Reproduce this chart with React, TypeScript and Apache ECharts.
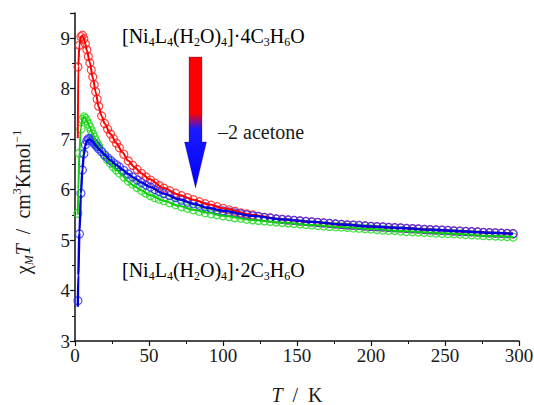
import React, { useEffect, useRef } from "react";
import * as echarts from "echarts";

// Measured points (T / K)
const tempK = [
  2, 3, 4, 5, 6, 7, 8, 9, 10, 11, 12, 13, 14, 15, 16, 18, 20, 22, 24, 26, 28, 30,
  33, 36, 39, 42, 45, 48, 51, 54, 57, 60, 64, 68, 72, 76, 80, 84, 88, 92, 96, 100,
  104, 108, 112, 116, 120, 124, 128, 132, 136, 140, 144, 148, 152, 156, 160, 164,
  168, 172, 176, 180, 184, 188, 192, 196, 200, 204, 208, 212, 216, 220, 224, 228,
  232, 236, 240, 244, 248, 252, 256, 260, 264, 268, 272, 276, 280, 284, 288, 292, 296,
];

// chi_M T of [Ni4L4(H2O)4]·4C3H6O (red)
const chiT4Acetone = [
  8.43, 8.86, 9.03, 9.06, 8.99, 8.89, 8.77, 8.64, 8.51, 8.37, 8.23, 8.08, 7.94, 7.79, 7.65, 7.46, 7.31, 7.2, 7.1, 7.01, 6.92, 6.83,
  6.7, 6.57, 6.48, 6.4, 6.32, 6.25, 6.19, 6.13, 6.08, 6.03, 5.98, 5.93, 5.88, 5.84, 5.8, 5.76, 5.72, 5.69, 5.66, 5.63,
  5.6, 5.57, 5.54, 5.52, 5.5, 5.47, 5.45, 5.44, 5.42, 5.41, 5.4, 5.39, 5.38, 5.37, 5.36, 5.35,
  5.34, 5.33, 5.32, 5.31, 5.3, 5.295, 5.29, 5.28, 5.27, 5.265, 5.26, 5.25, 5.245, 5.24, 5.23, 5.225,
  5.22, 5.21, 5.205, 5.2, 5.195, 5.19, 5.18, 5.175, 5.17, 5.165, 5.16, 5.15, 5.145, 5.14, 5.135, 5.13, 5.125,
];

// green sample
const chiTGreen = [
  5.53, 6.72, 7.2, 7.39, 7.44, 7.41, 7.36, 7.3, 7.24, 7.17, 7.1, 7.04, 6.97, 6.91, 6.86, 6.76, 6.67, 6.59, 6.52, 6.45, 6.39, 6.33,
  6.25, 6.17, 6.11, 6.04, 5.98, 5.93, 5.88, 5.84, 5.81, 5.78, 5.74, 5.7, 5.66, 5.63, 5.6, 5.57, 5.54, 5.52, 5.5, 5.48,
  5.46, 5.44, 5.43, 5.41, 5.4, 5.39, 5.38, 5.37, 5.36, 5.35, 5.34, 5.33, 5.32, 5.31, 5.3, 5.29,
  5.28, 5.27, 5.265, 5.26, 5.25, 5.24, 5.235, 5.225, 5.22, 5.21, 5.2, 5.195, 5.19, 5.18, 5.17, 5.165,
  5.16, 5.155, 5.15, 5.14, 5.135, 5.13, 5.125, 5.12, 5.11, 5.105, 5.1, 5.09, 5.085, 5.08, 5.075, 5.07, 5.06,
];

// chi_M T of [Ni4L4(H2O)4]·2C3H6O (blue)
const chiT2Acetone = [
  3.8, 5.12, 5.93, 6.39, 6.71, 6.89, 6.97, 7.01, 7.01, 6.98, 6.95, 6.92, 6.88, 6.85, 6.81, 6.75, 6.69, 6.63, 6.58, 6.53, 6.49, 6.45,
  6.38, 6.31, 6.25, 6.19, 6.14, 6.09, 6.05, 6.0, 5.96, 5.92, 5.88, 5.84, 5.79, 5.75, 5.72, 5.69, 5.66, 5.63, 5.6, 5.58,
  5.56, 5.54, 5.52, 5.5, 5.48, 5.47, 5.45, 5.44, 5.42, 5.41, 5.4, 5.39, 5.38, 5.37, 5.36, 5.35,
  5.34, 5.33, 5.32, 5.31, 5.3, 5.295, 5.29, 5.28, 5.27, 5.265, 5.26, 5.25, 5.245, 5.24, 5.23, 5.225,
  5.22, 5.21, 5.205, 5.2, 5.195, 5.19, 5.18, 5.175, 5.17, 5.165, 5.16, 5.15, 5.145, 5.14, 5.135, 5.13, 5.125,
];

// Fitted curves
const fitT = [1.9, 2.2, 3, 4, 5, 6, 7, 8, 10, 12, 14, 16, 18, 20, 24, 28, 32, 36, 40, 45, 50, 60, 70, 80, 90, 100, 120, 140, 160, 180, 200, 220, 240, 260, 280, 296];
const fit4Acetone = [7.02, 8.45, 8.86, 9.02, 9.05, 8.99, 8.88, 8.76, 8.52, 8.22, 7.93, 7.64, 7.46, 7.31, 7.1, 6.92, 6.74, 6.57, 6.45, 6.32, 6.21, 6.03, 5.9, 5.8, 5.71, 5.63, 5.5, 5.41, 5.36, 5.31, 5.27, 5.24, 5.205, 5.175, 5.145, 5.125];
const fitGreen = [5.5, 6.0, 6.75, 7.22, 7.4, 7.44, 7.41, 7.36, 7.24, 7.1, 6.97, 6.86, 6.76, 6.67, 6.52, 6.39, 6.28, 6.16, 6.07, 5.98, 5.9, 5.78, 5.68, 5.6, 5.54, 5.48, 5.4, 5.35, 5.3, 5.26, 5.22, 5.18, 5.15, 5.12, 5.085, 5.06];
const fit2Acetone = [3.68, 4.3, 5.15, 5.92, 6.4, 6.7, 6.87, 6.96, 7.0, 6.95, 6.88, 6.81, 6.75, 6.69, 6.58, 6.49, 6.4, 6.31, 6.23, 6.14, 6.06, 5.92, 5.81, 5.72, 5.64, 5.58, 5.48, 5.41, 5.36, 5.31, 5.27, 5.24, 5.205, 5.175, 5.145, 5.125];

const xTicks = { min: 0, max: 300, interval: 50 };
const yTicks = { min: 3, max: 9.5, interval: 1 };

const SERIF = "'Liberation Serif', 'DejaVu Serif', serif";
const TXT = "#1a1a1a";

const richBase = {
  n: { fontSize: 20, fontFamily: SERIF, color: TXT, lineHeight: 24 },
  i: { fontSize: 20, fontFamily: SERIF, color: TXT, lineHeight: 24, fontStyle: "italic" },
  s: { fontSize: 12, fontFamily: SERIF, color: TXT, lineHeight: 14, verticalAlign: "bottom" },
  si: { fontSize: 12, fontFamily: SERIF, color: TXT, lineHeight: 14, verticalAlign: "bottom", fontStyle: "italic" },
  p: { fontSize: 12, fontFamily: SERIF, color: TXT, lineHeight: 14, verticalAlign: "top" },
};

export default function App() {
  const ref = useRef<HTMLDivElement>(null);
  useEffect(() => {
    if (!ref.current) return;
    const chart = echarts.init(ref.current, null, { renderer: "svg" });
    const pts = (ys: number[]) => tempK.map((t, i) => [t, ys[i]]);
    const fit = (ys: number[]) => fitT.map((t, i) => [t, ys[i]]);
    const scatter = (name: string, ys: number[], color: string) => ({
      name,
      type: "scatter",
      data: pts(ys),
      symbol: "circle",
      symbolSize: 8,
      itemStyle: { color: "rgba(255,255,255,0)", borderColor: color, borderWidth: 1.2, opacity: 0.85 },
      silent: true,
    });
    const line = (name: string, ys: number[], color: string, width: number) => ({
      name,
      type: "line",
      data: fit(ys),
      showSymbol: false,
      smooth: 0.3,
      smoothMonotone: "x",
      lineStyle: { color, width },
      silent: true,
    });
    const axisCommon = {
      axisLine: { show: true, lineStyle: { color: "#111", width: 1.5 } },
      axisTick: { show: true, inside: false, length: 5, lineStyle: { color: "#111", width: 1.2 } },
      minorTick: { show: true, splitNumber: 2, length: 3, lineStyle: { color: "#111", width: 1 } },
      splitLine: { show: false },
      minorSplitLine: { show: false },
    };
    const formula = (k: string) =>
      `{n|[Ni}{s|4}{n|L}{s|4}{n|(H}{s|2}{n|O)}{s|4}{n|]·${k}C}{s|3}{n|H}{s|6}{n|O}`;
    chart.setOption({
      animation: false,
      grid: { left: 75, right: 15, top: 13, bottom: 64, containLabel: false, outerBoundsMode: "none" },
      xAxis: {
        type: "value",
        ...xTicks,
        ...axisCommon,
        axisLabel: { fontSize: 19, fontFamily: SERIF, color: TXT, margin: 5 },
        name: "{i|T}{n|  /  K}",
        nameLocation: "middle",
        nameGap: 42,
        nameTextStyle: { rich: richBase },
      },
      yAxis: {
        type: "value",
        ...yTicks,
        ...axisCommon,
        axisLabel: {
          fontSize: 19,
          fontFamily: SERIF,
          color: TXT,
          margin: 5,
          formatter: (v: number) => (Number.isInteger(v) ? String(v) : ""),
        },
        name: "{n|χ}{si|M}{i|T}{n|  /  cm}{p|3}{n|Kmol}{p|−1}",
        nameLocation: "middle",
        nameRotate: 90,
        nameGap: 40,
        nameTextStyle: { rich: richBase, padding: [0, 50, 0, 0] },
      },
      series: [
        scatter("green data", chiTGreen, "#22dd22"),
        line("green fit", fitGreen, "#11cc11", 2),
        scatter("4 acetone data", chiT4Acetone, "#ff2020"),
        line("4 acetone fit", fit4Acetone, "#ff0000", 2),
        scatter("2 acetone data", chiT2Acetone, "#3030ff"),
        line("2 acetone fit", fit2Acetone, "#0000dd", 2.4),
      ],
      graphic: [
        {
          type: "polygon",
          shape: {
            points: [
              [189, 57], [202, 57], [202, 142], [206.5, 142], [195.5, 188], [184.5, 142], [189, 142],
            ],
          },
          style: {
            fill: new echarts.graphic.LinearGradient(0, 0, 0, 1, [
              { offset: 0, color: "#ff0000" },
              { offset: 0.43, color: "#ff0000" },
              { offset: 0.55, color: "#1a1aff" },
              { offset: 1, color: "#0000ff" },
            ]),
            stroke: "rgba(60,0,60,0.35)",
            lineWidth: 0.8,
          },
        },
        {
          type: "text",
          x: 122,
          y: 24,
          style: { text: formula("4"), rich: richBase },
        },
        {
          type: "text",
          x: 122,
          y: 258,
          style: { text: formula("2"), rich: richBase },
        },
        {
          type: "text",
          x: 218,
          y: 122,
          style: {
            text: "\u20132 acetone",
            fontSize: 20,
            fontFamily: SERIF,
            fill: TXT,
          },
        },
      ],
    });
    return () => chart.dispose();
  }, []);
  return <div ref={ref} style={{ width: 534, height: 405, position: "absolute", left: 0, top: 0 }} />;
}
